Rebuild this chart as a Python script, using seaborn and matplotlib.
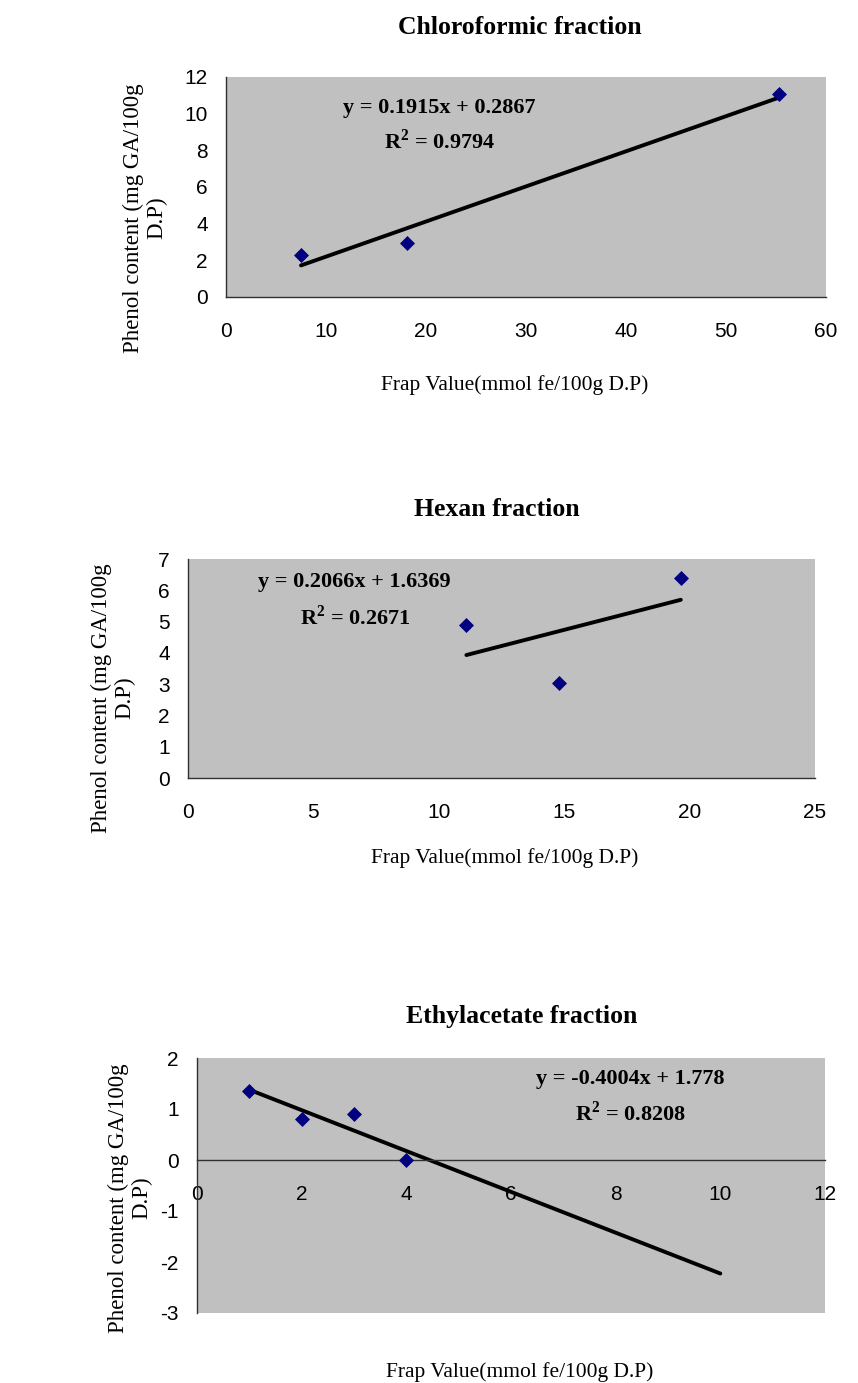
import matplotlib
matplotlib.use("Agg")
import matplotlib.pyplot as plt
import seaborn as sns
import pandas as pd

# Chloroformic fraction
chl_x = [7.5, 18.1, 55.3]
chl_y = [2.3, 2.95, 11.05]
chl_fit = (0.1915, 0.2867, 0.9794)
chl_fit_x = [7.5, 55.3]

# Hexan fraction
hex_x = [11.1, 14.8, 19.65]
hex_y = [4.9, 3.05, 6.4]
hex_fit = (0.2066, 1.6369, 0.2671)
hex_fit_x = [11.1, 19.65]

# Ethylacetate fraction
eth_x = [1, 2, 3, 4]
eth_y = [1.35, 0.8, 0.9, 0.0]
eth_fit = (-0.4004, 1.778, 0.8208)
eth_fit_x = [1, 10]

xlabel = "Frap Value(mmol fe/100g D.P)"
ylabel = "Phenol content (mg GA/100g\nD.P)"

sns.set_style("white")
plt.rcParams['font.family'] = ['Liberation Serif', 'DejaVu Serif']
plt.rcParams['text.color'] = 'black'
plt.rcParams['axes.unicode_minus'] = False
plt.rcParams['mathtext.fontset'] = 'custom'
plt.rcParams['mathtext.rm'] = 'Liberation Serif:bold'
plt.rcParams['mathtext.bf'] = 'Liberation Serif:bold'

W, H = 858, 1383
fig = plt.figure(figsize=(W / 100, H / 100), dpi=100)


def px(x, y):
    return x / W, 1 - y / H


def draw_panel(box, title, xs, ys, fit, fit_x, xlim, xticks, ylim, yticks,
               eq_xy, r2_xy, title_xy, xlab_xy, ylab_xy, zero_axis=False):
    l, t, r, b = box
    ax = fig.add_axes([l / W, 1 - b / H, (r - l) / W, (b - t) / H])
    ax.set_facecolor('#C0C0C0')

    slope, icpt, r2 = fit
    line = pd.DataFrame({'x': fit_x})
    line['y'] = slope * line['x'] + icpt
    pts = pd.DataFrame({'x': xs, 'y': ys})

    sns.lineplot(data=line, x='x', y='y', color='black', lw=2.8, ax=ax)
    sns.scatterplot(data=pts, x='x', y='y', marker='D', s=50, color='#000080',
                    edgecolor='#000080', ax=ax, zorder=3)

    ax.set_xlim(xlim)
    ax.set_ylim(ylim)
    ax.set_xticks(xticks)
    ax.set_yticks(yticks)
    ax.set_xlabel('')
    ax.set_ylabel('')
    for s in ['top', 'right']:
        ax.spines[s].set_visible(False)
    for s in ['left', 'bottom']:
        ax.spines[s].set_color('#303030')
        ax.spines[s].set_linewidth(1)
    if zero_axis:
        ax.spines['bottom'].set_position(('data', 0))
    ax.tick_params(axis='both', direction='out', length=6, width=1, color='#303030',
                   labelsize=15, labelcolor='black', labelfontfamily='Liberation Sans')
    ax.tick_params(axis='x', pad=12)
    ax.tick_params(axis='y', pad=7)

    sign = '+' if icpt >= 0 else '-'
    ax.text(*eq_xy, f"y = {slope:g}x {sign} {abs(icpt):g}", ha='center', va='center',
            fontsize=16, fontweight='bold')
    ax.text(*r2_xy, f"R$^2$ = {r2:.4f}", ha='center', va='center',
            fontsize=16, fontweight='bold')

    fig.text(*px(*title_xy), title, ha='center', va='center', fontsize=18.5, fontweight='bold')
    fig.text(*px(*xlab_xy), xlabel, ha='center', va='center', fontsize=15.5)
    fig.text(*px(*ylab_xy), ylabel, ha='center', va='center', fontsize=16.5,
             rotation=90, multialignment='center', linespacing=1.15)
    return ax


draw_panel((226, 77, 826, 297), "Chloroformic fraction", chl_x, chl_y, chl_fit, chl_fit_x,
           (0, 60), range(0, 61, 10), (0, 12), range(0, 13, 2),
           (21.3, 10.3), (21.4, 8.5), (520, 27), (515, 385), (145, 218))

draw_panel((188, 559, 815, 778), "Hexan fraction", hex_x, hex_y, hex_fit, hex_fit_x,
           (0, 25), range(0, 26, 5), (0, 7), range(0, 8),
           (6.65, 6.25), (6.67, 5.12), (497, 510), (505, 858), (113, 698))

draw_panel((197, 1058, 825, 1313), "Ethylacetate fraction", eth_x, eth_y, eth_fit, eth_fit_x,
           (0, 12), range(0, 13, 2), (-3, 2), range(-3, 3),
           (8.28, 1.58), (8.28, 0.92), (522, 1017), (520, 1372), (130, 1198), zero_axis=True)

fig.savefig("out.png", dpi=100)
